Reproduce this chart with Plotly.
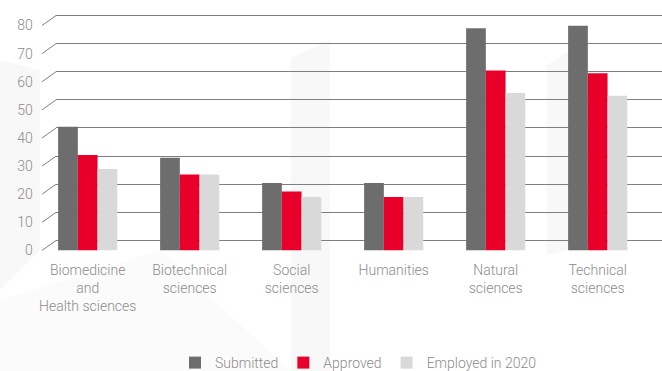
import plotly.graph_objects as go

# Research projects by field
categories = [
    "Biomedicine<br>and<br>Health sciences",
    "Biotechnical<br>sciences",
    "Social<br>sciences",
    "Humanities",
    "Natural<br>sciences",
    "Technical<br>sciences",
]
submitted = [44, 33, 24, 24, 79, 80]
approved = [34, 27, 21, 19, 64, 63]
employed_2020 = [29, 27, 19, 19, 56, 55]
y_ticks = [0, 10, 20, 30, 40, 50, 60, 70, 80]

W, H = 662, 371
FONT = "Roboto, sans-serif"
TEXT = "#8c8c8c"
GRID = "#7f7f7f"

# pixel geometry of the pseudo-3D frame
front_left, front_right = 36.7, 648.7
front_y0, front_y80 = 250.5, 25.5
depth_dx, depth_dy = 14, 10  # back wall offset
unit_px = (front_y0 - front_y80) / 80
pad = 1  # value units of slack so the edge gridlines are kept


def px_x(p):
    return p / W


def px_y(p):
    return 1 - p / H


fig = go.Figure()

# invisible trace to anchor the back-wall grid
fig.add_trace(go.Scatter(x=[0], y=[0], xaxis="x", yaxis="y", mode="markers",
                         marker=dict(opacity=0), showlegend=False, hoverinfo="skip"))

series = [
    ("Submitted", submitted, "#6d6d6d"),
    ("Approved", approved, "#e8002b"),
    ("Employed in 2020", employed_2020, "#d9d9d9"),
]
for name, vals, col in series:
    fig.add_trace(go.Bar(name=name, x=categories, y=vals, marker_color=col,
                         marker_line_width=0, xaxis="x2", yaxis="y2"))

shapes = []
# faint background facets
facet = "rgba(0,0,0,0.028)"


def poly(pts, fill):
    path = "M" + " L".join(f"{px_x(x)},{px_y(y)}" for x, y in pts) + " Z"
    return dict(type="path", xref="paper", yref="paper", layer="below",
                path=path, fillcolor=fill, line_width=0)


shapes.append(poly([(0, 60), (40, 70), (40, 250), (0, 290)], facet))
shapes.append(poly([(291, 58), (330, 40), (330, 371), (291, 371)], facet))
shapes.append(poly([(547, 65), (570, 50), (570, 250), (547, 255)], facet))
shapes.append(poly([(0, 300), (160, 250), (290, 371), (0, 371)], "rgba(0,0,0,0.015)"))

# diagonal connectors from the value labels to the back wall
cx0 = front_left + 5.3
for v in y_ticks:
    yf = front_y0 - v * unit_px
    shapes.append(dict(type="line", xref="paper", yref="paper",
                       x0=px_x(cx0), y0=px_y(yf),
                       x1=px_x(cx0 + depth_dx), y1=px_y(yf - depth_dy),
                       line=dict(color=GRID, width=1)))

fig.update_layout(
    width=W, height=H,
    margin=dict(l=0, r=0, t=0, b=0, autoexpand=False),
    paper_bgcolor="white", plot_bgcolor="rgba(0,0,0,0)",
    font=dict(family=FONT, color=TEXT, size=14, weight=300),
    barmode="group", bargap=0.42, bargroupgap=0,
    showlegend=True,
    legend=dict(orientation="h", x=px_x(358), xanchor="center", y=px_y(363), yanchor="middle",
                font=dict(size=14, color=TEXT, weight=300), bgcolor="rgba(0,0,0,0)",
                itemwidth=30),
    # back wall grid
    xaxis=dict(domain=[px_x(cx0 + depth_dx), 1], range=[0, 1], visible=False,
               fixedrange=True),
    yaxis=dict(domain=[px_y(front_y0 - depth_dy + pad * unit_px),
                       px_y(front_y80 - depth_dy - pad * unit_px)],
               range=[-pad, 80 + pad],
               tickvals=y_ticks, showticklabels=False, showgrid=True, gridcolor=GRID,
               gridwidth=1.2, zeroline=False, showline=False, anchor="x"),
    # front plane holding the bars
    xaxis2=dict(domain=[px_x(front_left), px_x(front_right)], anchor="y2", showgrid=False,
                showline=False, ticks="", tickfont=dict(size=14, color=TEXT),
                ticklabelstandoff=9),
    yaxis2=dict(domain=[px_y(front_y0), px_y(front_y80)], anchor="x2", range=[0, 80],
                tickvals=y_ticks, showgrid=False, zeroline=False, showline=False,
                ticks="", tickfont=dict(size=14, color=TEXT), ticklabelstandoff=3),
    shapes=shapes,
)

fig.write_html("out.html")
